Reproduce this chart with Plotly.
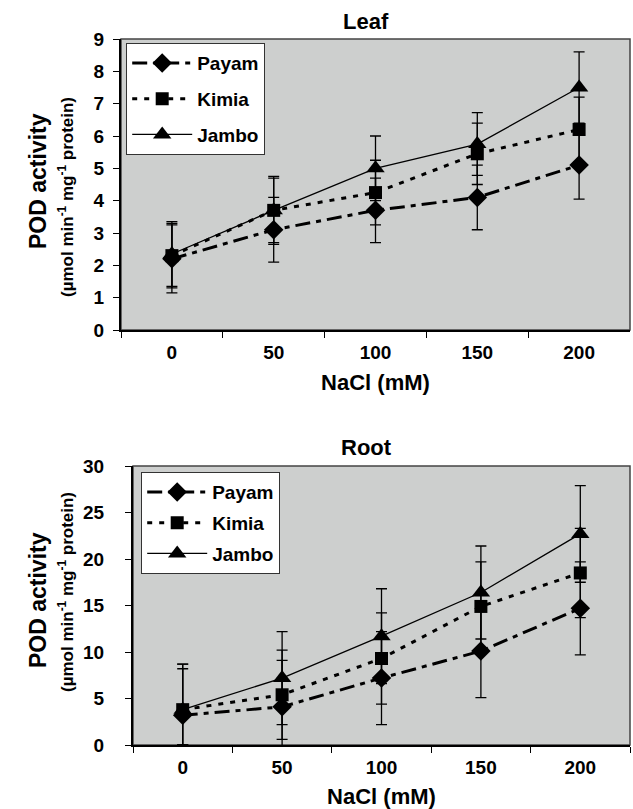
import plotly.graph_objects as go

# ---------------- data ----------------
nacl = ["0", "50", "100", "150", "200"]

leaf_payam = [2.2, 3.1, 3.7, 4.1, 5.1]
leaf_kimia = [2.3, 3.7, 4.25, 5.45, 6.2]
leaf_jambo = [2.35, 3.7, 5.0, 5.75, 7.5]
leaf_payam_err = [1.05, 1.0, 1.0, 1.0, 1.05]
leaf_kimia_err = [1.0, 1.0, 1.0, 0.95, 1.0]
leaf_jambo_err = [1.0, 1.05, 1.0, 0.97, 1.1]

root_payam = [3.2, 4.1, 7.2, 10.1, 14.7]
root_kimia = [3.8, 5.4, 9.3, 14.9, 18.5]
root_jambo = [3.8, 7.2, 11.7, 16.4, 22.7]
root_payam_err = [5.0, 5.0, 5.0, 5.0, 5.0]
root_kimia_err = [4.9, 4.8, 4.9, 4.8, 4.8]
root_jambo_err = [4.9, 5.0, 5.1, 5.0, 5.2]
# lower error extents as drawn (bars at 0 mM stop at the axis)
root_payam_err_minus = [3.2, 5.0, 5.0, 5.0, 5.0]
root_kimia_err_minus = [3.8, 4.8, 4.9, 4.8, 4.8]
root_jambo_err_minus = [3.8, 5.0, 5.1, 5.0, 5.2]

leaf_ticks = list(range(0, 10))
root_ticks = list(range(0, 31, 5))

FONT = "Liberation Sans, Arial, sans-serif"
W, H = 633, 809
BG = "#cdcfce"

styles = {
    "Payam": dict(dash="15px,6px,5px,6px", width=3, symbol="diamond", size=15),
    "Kimia": dict(dash="5px,7px", width=3, symbol="square", size=13),
    "Jambo": dict(dash="solid", width=1.3, symbol="triangle-up", size=16),
}

fig = go.Figure()

def add_series(name, y, err, err_minus, xa, ya, legend):
    s = styles[name]
    fig.add_trace(go.Scatter(
        x=nacl, y=y, name=f"<b>{name}</b>", xaxis=xa, yaxis=ya, legend=legend,
        legendgroup=f"{legend}-{name}",
        mode="lines+markers",
        line=dict(color="black", width=s["width"], dash=s["dash"]),
        marker=dict(symbol=s["symbol"], size=s["size"], color="black"),
        error_y=dict(type="data", array=err, arrayminus=err_minus, symmetric=False,
                     visible=True, color="black", thickness=1.3, width=5.5),
        cliponaxis=False,
    ))

add_series("Payam", leaf_payam, leaf_payam_err, leaf_payam_err, "x", "y", "legend")
add_series("Kimia", leaf_kimia, leaf_kimia_err, leaf_kimia_err, "x", "y", "legend")
add_series("Jambo", leaf_jambo, leaf_jambo_err, leaf_jambo_err, "x", "y", "legend")
add_series("Payam", root_payam, root_payam_err, root_payam_err_minus, "x2", "y2", "legend2")
add_series("Kimia", root_kimia, root_kimia_err, root_kimia_err_minus, "x2", "y2", "legend2")
add_series("Jambo", root_jambo, root_jambo_err, root_jambo_err_minus, "x2", "y2", "legend2")

tickfont = dict(family=FONT, size=19, color="black")

def xax(domain, anchor):
    return dict(
        domain=domain, anchor=anchor, type="category", range=[-0.5, 4.5],
        tickvals=nacl, ticktext=[f"<b>{c}</b>" for c in nacl],
        tickson="boundaries", ticks="outside", ticklen=6, tickwidth=1.3,
        tickcolor="black", showline=True, linecolor="black", linewidth=2,
        showgrid=False, zeroline=False, tickfont=tickfont,
        ticklabelstandoff=4, automargin=False,
        title=dict(text="<b>NaCl (mM)</b>", font=dict(family=FONT, size=22, color="black"),
                   standoff=13),
    )

def yax(domain, anchor, rng, ticks, standoff):
    return dict(
        domain=domain, anchor=anchor, range=rng, tickvals=ticks,
        ticktext=[f"<b>{t}</b>" for t in ticks],
        ticks="outside", ticklen=6, tickwidth=1.3, tickcolor="black",
        showline=True, linecolor="black", linewidth=2, showgrid=False,
        zeroline=False, tickfont=tickfont, ticklabelstandoff=standoff,
        automargin=False,
    )

top_x = [121 / W, 630 / W]
top_y = [1 - 330 / H, 1 - 39 / H]
bot_x = [133 / W, 630 / W]
bot_y = [1 - 745 / H, 1 - 466 / H]

leg_common = dict(xanchor="left", yanchor="top",
                  bgcolor="white", bordercolor="#333333", borderwidth=1.2,
                  font=dict(family=FONT, size=19, color="black"),
                  itemwidth=60)

fig.update_layout(
    width=W, height=H, margin=dict(l=0, r=0, t=0, b=0, autoexpand=False),
    paper_bgcolor="white", plot_bgcolor=BG,
    font=dict(family=FONT, color="black"),
    xaxis=xax(top_x, "y"),
    yaxis=yax(top_y, "x", [0, 9], leaf_ticks, 5),
    xaxis2=xax(bot_x, "y2"),
    yaxis2=yax(bot_y, "x2", [0, 30], root_ticks, 17),
    legend=dict(x=126 / W, y=1 - 43 / H, tracegroupgap=8, **leg_common),
    legend2=dict(x=141 / W, y=1 - 472 / H, tracegroupgap=3, **leg_common),
    showlegend=True,
)

# plot-area frames (dark grey border)
for xr, yr in (("x", "y"), ("x2", "y2")):
    fig.add_shape(type="rect", xref=f"{xr} domain", yref=f"{yr} domain",
                  x0=0, x1=1, y0=0, y1=1, line=dict(color="#444444", width=1.5),
                  layer="below")

ann = []
def title(text, y):
    ann.append(dict(text=f"<b>{text}</b>", x=366 / W, y=1 - y / H, xref="paper", yref="paper",
                    showarrow=False, font=dict(family=FONT, size=22, color="black"),
                    xanchor="center", yanchor="middle"))
title("Leaf", 21)
title("Root", 447)

def ylab(ycen1, ycen2):
    ann.append(dict(text="<b>POD activity</b>", x=38 / W, y=1 - ycen1 / H, xref="paper", yref="paper",
                    showarrow=False, textangle=-90,
                    font=dict(family=FONT, size=23, color="black"),
                    xanchor="center", yanchor="middle"))
    ann.append(dict(text="<b>(µmol min<sup>-1</sup> mg<sup>-1</sup> protein)</b>",
                    x=66 / W, y=1 - ycen2 / H, xref="paper", yref="paper",
                    showarrow=False, textangle=-90,
                    font=dict(family=FONT, size=17, color="black"),
                    xanchor="center", yanchor="middle"))
ylab(181, 197)
ylab(600, 592)

fig.update_layout(annotations=ann)
fig.write_html("out.html", config={"displayModeBar": False},
               post_script="document.body.style.margin='0';")
